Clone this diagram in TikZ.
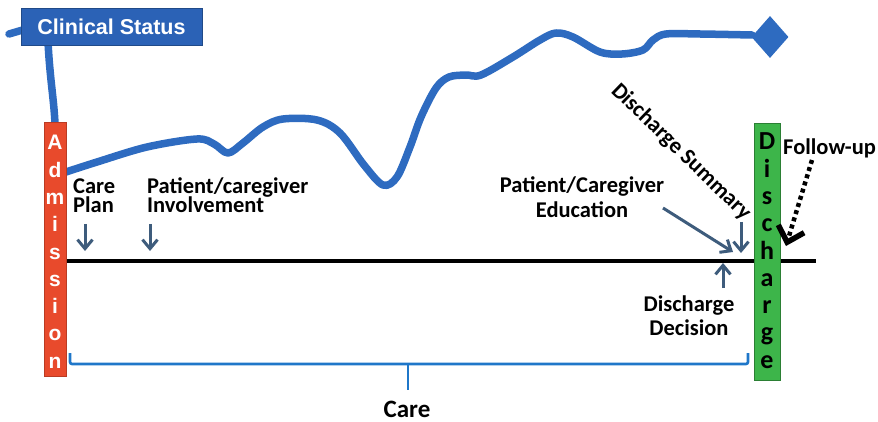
\documentclass[tikz,border=0pt]{standalone}
\usepackage{fontspec}
\setmainfont{Carlito}
\newfontfamily\arialfont{Liberation Sans}
\usetikzlibrary{arrows.meta,shapes.geometric}

\definecolor{statusblue}{HTML}{2E6BC0}
\definecolor{boxblue}{HTML}{2B62B6}
\definecolor{admred}{HTML}{E84A2C}
\definecolor{disgreen}{HTML}{3DB54A}
\definecolor{pointc}{HTML}{3E5C7C}
\definecolor{carebl}{HTML}{1F77C9}

\newcommand\lblfont{\fontsize{22.5}{20}\selectfont\bfseries}

\begin{document}
\begin{tikzpicture}[x=1pt,y=-1pt,
  statusline/.style={draw=statusblue, line width=7.5pt, line cap=round, line join=round},
  csbox/.style={rectangle, fill=boxblue, draw=boxblue!75!black, line width=0.8pt,
    minimum width=181pt, minimum height=37pt, inner sep=0pt, text=white,
    font=\arialfont\bfseries\fontsize{21.5}{24}\selectfont},
  admbar/.style={rectangle, fill=admred, draw=admred!80!black, line width=0.8pt,
    minimum width=22pt, minimum height=254pt, inner sep=0pt},
  disbar/.style={rectangle, fill=disgreen, draw=disgreen!70!black, line width=0.8pt,
    minimum width=26pt, minimum height=257pt, inner sep=0pt},
  admletter/.style={anchor=base, inner sep=0pt, text=white,
    font=\arialfont\bfseries\fontsize{21}{24}\selectfont},
  disletter/.style={anchor=base, inner sep=0pt, text=black,
    font=\bfseries\fontsize{26}{26}\selectfont},
  lbl/.style={inner sep=0pt, font=\lblfont},
  pointer/.style={draw=pointc, line width=3pt, -{Straight Barb[length=9pt,width=15pt]}},
  timeline/.style={draw=black, line width=4pt},
  bracket/.style={draw=carebl, line width=2.6pt, rounded corners=2pt},
  followarrow/.style={draw=black, line width=4.5pt, dash pattern=on 4pt off 3.5pt,
    -{Straight Barb[length=14pt,width=27pt,line width=5.5pt]}},
]
\useasboundingbox (0,0) rectangle (878,422);

% time axis (under the bars)
\coordinate (tlend) at (816,261);
\coordinate (tlstart) at (60,261);
\draw[timeline] (tlstart) -- (tlend);

% clinical status curve
\draw[statusline] (9,34) -- (26,29);
\draw[statusline] (48,42) .. controls (50,80) and (54,100) .. (55,124) -- (55,168)
  -- plot[smooth, tension=0.55] coordinates {
    (66,172) (97,162) (147,147) (197,139) (214,144) (228,153) (243,143)
    (263,127) (283,119) (317,120) (340,133) (364,165) (383,185) (397,177)
    (410,147) (421,117) (436,88) (449,77) (466,75) (481,75) (513,57)
    (540,40) (556,33) (573,37) (600,52) (622,54) (643,50) (653,40)
    (666,34) (700,34) (752,35)};
\node[diamond, fill=statusblue, minimum width=37pt, minimum height=42pt, inner sep=0pt] (dia) at (770,37) {};

\node[csbox] (cs) at (111.5,26.5) {Clinical Status};

% admission and discharge bars
\node[admbar] (adm) at (55,249) {};
\foreach \l [count=\i] in {A,d,m,i,s,s,i,o,n}
  \node[admletter] at (55,{150+27.25*(\i-1)}) {\l};

\node[disbar] (dis) at (767,251.5) {};
\foreach \l [count=\i] in {D,i,s,c,h,a,r,g,e}
  \node[disletter] at (767,{150+27.25*(\i-1)}) {\l};

% labels above and below the axis (base = last line)
\node[lbl, anchor=base west, align=left] (careplan) at (73,213) {Care\\Plan};
\node[lbl, anchor=base west, align=left] (involve) at (147,213) {Patient/caregiver\\Involvement};
\node[lbl, anchor=base, align=center, font=\fontsize{22.5}{25}\selectfont\bfseries] (educ) at (582,218) {Patient/Caregiver\\Education};
\node[lbl, rotate=-44] (summary) at (681,152) {Discharge Summary};
\node[lbl, anchor=base, align=center, font=\fontsize{22.5}{24}\selectfont\bfseries] (decision) at (689,335) {Discharge\\Decision};
\node[lbl, anchor=base west] (follow) at (783,155) {Follow-up};

% pointers onto the axis
\coordinate (cpA) at (85,224);  \coordinate (cpB) at (85,251);
\coordinate (ivA) at (150,224); \coordinate (ivB) at (150,251);
\coordinate (edA) at (663,208); \coordinate (edB) at (733,252);
\coordinate (smA) at (741,222); \coordinate (smB) at (741,253);
\coordinate (dcA) at (723,288); \coordinate (dcB) at (723,263);
\coordinate (fuA) at (812,160); \coordinate (fuB) at (786,246);
\draw[pointer] (cpA) -- (cpB);
\draw[pointer] (ivA) -- (ivB);
\draw[pointer] (edA) -- (edB);
\draw[pointer] (smA) -- (smB);
\draw[pointer] (dcA) -- (dcB);
\draw[followarrow] (fuA) -- (fuB);

% care bracket
\coordinate (brL) at (70,353);
\coordinate (brR) at (748,353);
\coordinate (brM) at (408,364);
\coordinate (brT) at (408,390);
\draw[bracket] (brL) -- (70,364) -- (748,364) -- (brR);
\draw[bracket] (brM) -- (brT);
\node[lbl, font=\fontsize{25}{26}\selectfont\bfseries] (care) at (407,409) {Care};
\end{tikzpicture}
\end{document}
